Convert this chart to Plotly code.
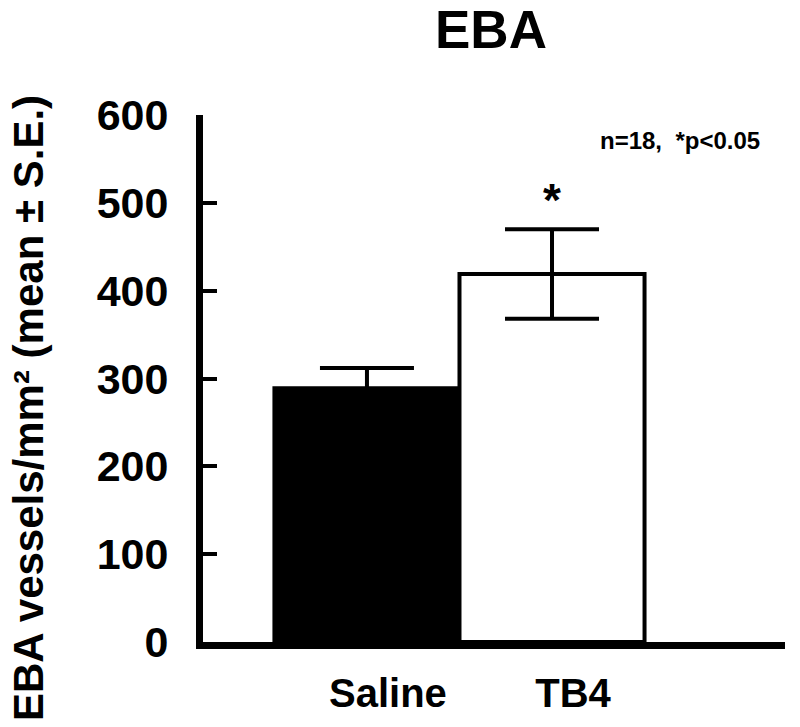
import plotly.graph_objects as go

categories = ["Saline", "TB4"]
means = [289, 419]
errors = [23, 51]
bar_colors = ["black", "white"]
y_ticks = [0, 100, 200, 300, 400, 500, 600]

title_text = "EBA"
y_title = "EBA vessels/mm² (mean ± S.E.)"
note_text = "n=18,  *p<0.05"
sig_marker = "*"

FONT = "Liberation Sans, Arial, sans-serif"

W, H = 800, 727
L, R, T, B = 203, 15, 115, 85
pw, ph = W - L - R, H - T - B

fig = go.Figure()
fig.add_trace(go.Bar(
    x=categories,
    y=means,
    width=1.0,
    marker=dict(color=bar_colors, line=dict(color="black", width=4)),
    error_y=dict(type="data", array=errors, visible=True,
                 color="black", thickness=4, width=47),
    showlegend=False,
    hoverinfo="skip",
))

def px_to_paper_x(px):
    return (px - L) / pw

def px_to_paper_y(py):
    return (H - B - py) / ph

fig.update_layout(
    width=W, height=H,
    margin=dict(l=L, r=R, t=T, b=B, autoexpand=False),
    plot_bgcolor="white", paper_bgcolor="white",
    bargap=0,
    annotations=[
        dict(text=title_text, xref="paper", yref="paper",
             x=px_to_paper_x(491), y=px_to_paper_y(30),
             xanchor="center", yanchor="middle", showarrow=False,
             font=dict(family=FONT, size=53, color="black", weight="bold")),
        dict(text=y_title, textangle=-90, xref="paper", yref="paper",
             x=px_to_paper_x(29), y=px_to_paper_y(408),
             xanchor="center", yanchor="middle", showarrow=False,
             font=dict(family=FONT, size=42, color="black", weight="bold")),
        dict(text=note_text, xref="paper", yref="paper",
             x=px_to_paper_x(680), y=px_to_paper_y(140),
             xanchor="center", yanchor="middle", showarrow=False,
             font=dict(family=FONT, size=24, color="black", weight="bold")),
        dict(text=sig_marker, xref="x", yref="paper",
             x=1, y=px_to_paper_y(200),
             xanchor="center", yanchor="middle", showarrow=False,
             font=dict(family=FONT, size=46, color="black", weight="bold")),
    ],
    xaxis=dict(
        type="category",
        range=[-0.886, 2.259],
        automargin=False,
        showline=True, linecolor="black", linewidth=7,
        ticks="", showgrid=False, zeroline=False,
        tickfont=dict(family=FONT, size=40, color="black", weight="bold"),
        ticklabelshift=21,
        ticklabelstandoff=10,
    ),
    yaxis=dict(
        range=[0, 600],
        tickvals=y_ticks,
        automargin=False,
        showline=True, linecolor="black", linewidth=7,
        ticks="inside", ticklen=14, tickwidth=4, tickcolor="black",
        showgrid=False, zeroline=False,
        tickfont=dict(family=FONT, size=43, color="black", weight="bold"),
        ticklabelstandoff=19,
    ),
)

fig.write_html("out.html",
               config={"displayModeBar": False, "staticPlot": True},
               post_script="document.body.style.margin='0';document.body.style.padding='0';")
